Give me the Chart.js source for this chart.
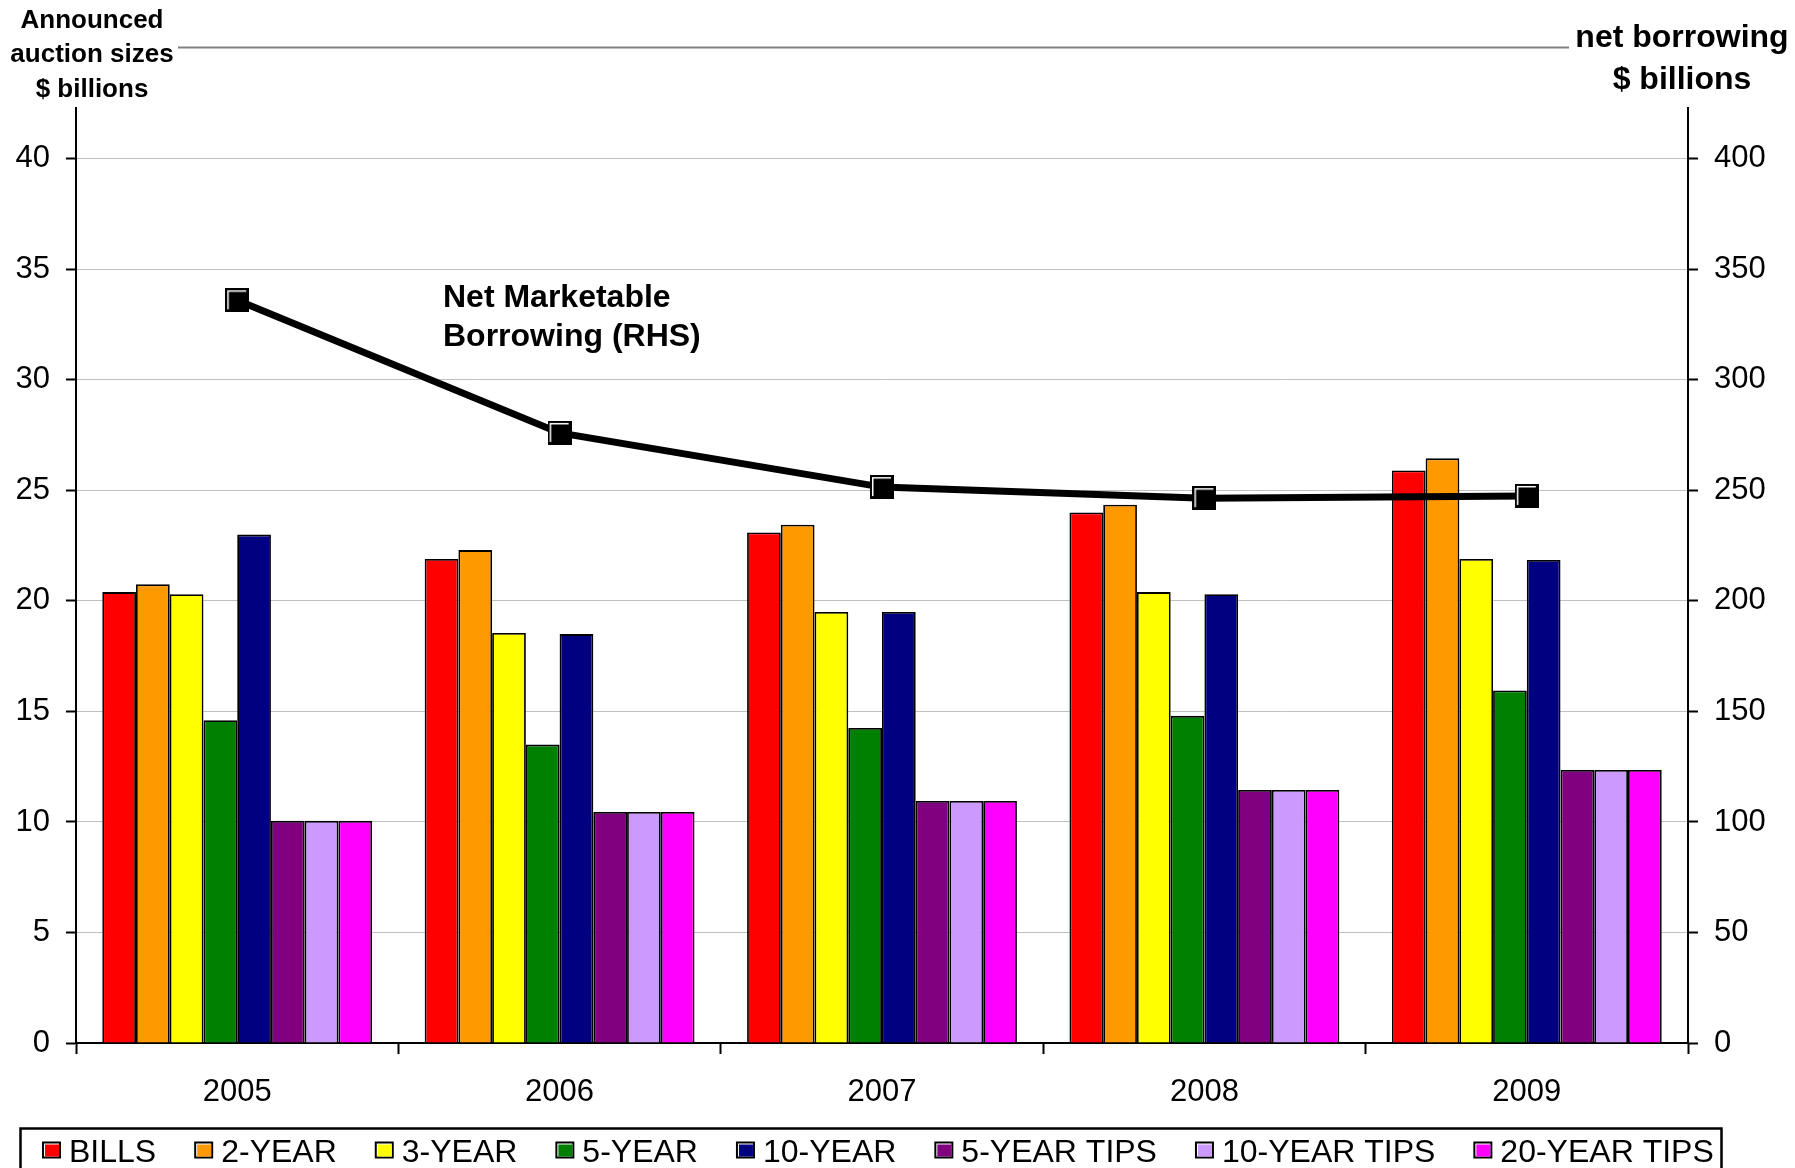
<!DOCTYPE html>
<html>
<head>
<meta charset="utf-8">
<script src="https://cdn.jsdelivr.net/npm/chart.js@4.4.1/dist/chart.umd.min.js"></script>
<style>
  html, body { margin: 0; padding: 0; background: #fff; }
  canvas { display: block; }
</style>
</head>
<body>
<canvas id="auctionChart" width="1795" height="1168"></canvas>
<script>
const years = ['2005', '2006', '2007', '2008', '2009'];

const bills      = [20.4, 21.9, 23.1, 24.0, 25.9];
const twoYear    = [20.75, 22.3, 23.45, 24.35, 26.45];
const threeYear  = [20.3, 18.55, 19.5, 20.4, 21.9];
const fiveYear   = [14.6, 13.5, 14.25, 14.8, 15.95];
const tenYear    = [23.0, 18.5, 19.5, 20.3, 21.85];
const fiveTips   = [10.05, 10.45, 10.95, 11.45, 12.35];
const tenTips    = [10.05, 10.45, 10.95, 11.45, 12.35];
const twentyTips = [10.05, 10.45, 10.95, 11.45, 12.35];

const netBorrowing = [336, 276, 251.5, 246.5, 247.5];

const seriesNames  = ['BILLS', '2-YEAR', '3-YEAR', '5-YEAR', '10-YEAR', '5-YEAR TIPS', '10-YEAR TIPS', '20-YEAR TIPS'];
const seriesColors = ['#ff0000', '#ff9900', '#ffff00', '#008000', '#000080', '#800080', '#cc99ff', '#ff00ff'];

const leftTitle  = ['Announced', 'auction sizes', '$ billions'];
const rightTitle = ['net borrowing', '$ billions'];
const lineNote   = ['Net Marketable', 'Borrowing (RHS)'];

const FONT = '"Liberation Sans", Arial, Helvetica, sans-serif';

// square marker like the excel one: black with a white bevel on top/left
const marker = document.createElement('canvas');
marker.width = 24; marker.height = 24;
(function () {
  const m = marker.getContext('2d');
  m.fillStyle = '#000';
  m.fillRect(0, 0, 24, 24);
  m.fillStyle = '#fff';
  m.fillRect(2, 2, 19, 1.5);
  m.fillRect(2, 2, 1.5, 19);
})();

const barValues = [bills, twoYear, threeYear, fiveYear, tenYear, fiveTips, tenTips, twentyTips];

const datasets = [{
  type: 'line',
  label: 'Net Marketable Borrowing (RHS)',
  data: netBorrowing,
  yAxisID: 'y2',
  borderColor: '#000',
  borderWidth: 7,
  tension: 0,
  pointStyle: marker,
  pointRadius: 12,
  order: 0
}];
barValues.forEach((vals, i) => {
  datasets.push({
    type: 'bar',
    label: seriesNames[i],
    data: vals,
    yAxisID: 'y',
    backgroundColor: seriesColors[i],
    borderColor: '#000',
    borderWidth: 1.8,
    categoryPercentage: 0.837,
    barPercentage: 1.0,
    order: 1
  });
});

const decor = {
  id: 'decor',
  afterDraw(chart) {
    const ctx = chart.ctx;
    ctx.save();
    ctx.fillStyle = '#000';
    ctx.textBaseline = 'middle';

    // axis titles
    ctx.textAlign = 'center';
    ctx.font = 'bold 26px ' + FONT;
    leftTitle.forEach((t, i) => ctx.fillText(t, 92, 21 + i * 34.3));
    ctx.font = 'bold 32px ' + FONT;
    rightTitle.forEach((t, i) => ctx.fillText(t, 1682, 38 + i * 42));

    // grey rule between the titles
    ctx.strokeStyle = '#808080';
    ctx.lineWidth = 2;
    ctx.beginPath();
    ctx.moveTo(178, 47.5);
    ctx.lineTo(1569, 47.5);
    ctx.stroke();

    // note next to the line
    ctx.textAlign = 'left';
    ctx.font = 'bold 32px ' + FONT;
    lineNote.forEach((t, i) => ctx.fillText(t, 443, 298 + i * 39));

    // legend
    ctx.font = '32px ' + FONT;
    let x = 42;
    chart.data.datasets.filter(d => d.type === 'bar').forEach(d => {
      const y = 1141.5;
      ctx.fillStyle = '#000';
      ctx.fillRect(x, y, 19, 17);
      ctx.fillStyle = '#fff';
      ctx.fillRect(x + 2, y + 2, 15, 13);
      ctx.fillStyle = d.backgroundColor;
      ctx.fillRect(x + 3, y + 3, 14, 12);
      ctx.fillStyle = '#000';
      ctx.fillText(d.label, x + 27, 1153);
      x += 27 + ctx.measureText(d.label).width + 38;
    });
    ctx.strokeStyle = '#000';
    ctx.lineWidth = 2.5;
    ctx.beginPath();
    ctx.moveTo(20.5, 1175);
    ctx.lineTo(20.5, 1128.5);
    ctx.lineTo(1721.5, 1128.5);
    ctx.lineTo(1721.5, 1175);
    ctx.stroke();
    ctx.restore();
  }
};

Chart.defaults.font.family = FONT;
Chart.defaults.color = '#000';

new Chart(document.getElementById('auctionChart'), {
  data: { labels: years, datasets: datasets },
  options: {
    responsive: false,
    animation: false,
    layout: { padding: { top: 108, left: 0, right: 0, bottom: 0 } },
    plugins: {
      legend: { display: false },
      tooltip: { enabled: false }
    },
    scales: {
      x: {
        position: 'bottom',
        offset: true,
        grid: { offset: true, drawOnChartArea: false, drawTicks: true, tickLength: 11, tickColor: '#000', tickWidth: 2 },
        border: { display: true, color: '#000', width: 2 },
        ticks: { font: { size: 31 }, color: '#000', padding: 20, maxRotation: 0 },
        afterFit: s => { s.height = 125; }
      },
      y: {
        position: 'left',
        min: 0,
        max: 42.3,
        ticks: { stepSize: 5, includeBounds: false, font: { size: 31 }, color: '#000', padding: 16 },
        grid: { color: '#c0c0c0', lineWidth: 1, tickLength: 10, tickColor: '#000', tickWidth: 2 },
        border: { display: true, color: '#000', width: 2 },
        afterFit: s => { s.width = 76; }
      },
      y2: {
        position: 'right',
        min: 0,
        max: 423,
        ticks: { stepSize: 50, includeBounds: false, font: { size: 31 }, color: '#000', padding: 16 },
        grid: { drawOnChartArea: false, tickLength: 10, tickColor: '#000', tickWidth: 2 },
        border: { display: true, color: '#000', width: 2 },
        afterFit: s => { s.width = 107; }
      }
    }
  },
  plugins: [decor]
});
</script>
</body>
</html>
